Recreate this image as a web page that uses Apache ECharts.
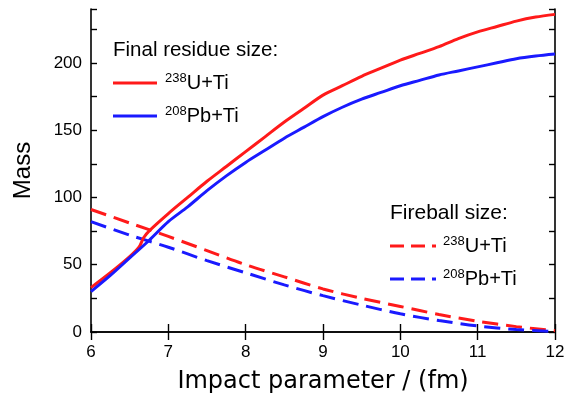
<!DOCTYPE html>
<html><head><meta charset="utf-8">
<script src="https://cdn.jsdelivr.net/npm/echarts@6/dist/echarts.min.js"></script>
<style>html,body{margin:0;padding:0;background:#fff}#c{width:578px;height:399px}</style>
</head><body><div id="c"></div>
<script>
// Impact parameter (fm) and masses
const bResidueU  = [6,6.25,6.5,6.62,6.68,6.75,7,7.25,7.5,7.75,8,8.25,8.5,8.75,9,9.25,9.5,9.75,10,10.25,10.5,10.75,11,11.25,11.5,11.75,12];
const residueU   = [33,44,56,63,70,75,88,100,112,123,134,145,156,166,176,183,190,196,202,207,212,218,223,227,231,234,236];
const bResiduePb = [6,6.25,6.5,6.75,7,7.25,7.5,7.75,8,8.25,8.5,8.75,9,9.25,9.5,9.75,10,10.25,10.5,10.75,11,11.25,11.5,11.75,12];
const residuePb  = [30,42,55,68,82,93,105,116,126,135,144,152,160,167,173,178,183,187,191,194,197,200,203,205,206.5];
const bFireball  = [6,6.5,7,7.5,8,8.5,9,9.5,10,10.5,11,11.5,12];
const fireballU  = [91,81,71,60.5,50,41,32,25,19,13,8,4,1];
const fireballPb = [82,72,63,53,44,35,27,20,13.5,8.5,4.5,1.8,0.3];
const xTicks = [6,7,8,9,10,11,12];
const yTickLabels = [0,50,100,150,200];

const FONT = 'Liberation Sans';
const TITLE_FONT = 'DejaVu Sans';
const zip = (xs, ys) => xs.map((x, i) => [x, ys[i]]);
const chart = echarts.init(document.getElementById('c'), null, {renderer: 'canvas'});
const axisLine = {show: true, lineStyle: {color: '#000', width: 1.6}};
const lineSeries = (name, xs, ys, color, type) => ({
  name, type: 'line', data: zip(xs, ys), smooth: 0.3, showSymbol: false,
  lineStyle: {color, width: 3, type: type === 'dashed' ? [16, 8] : 'solid'},
  itemStyle: {color}, z: 3
});
const sup = c => ({fontSize: 13, fontFamily: FONT, color: c, verticalAlign: 'top', lineHeight: 22});
const main = c => ({fontSize: 20, fontFamily: FONT, color: c, lineHeight: 22});
const labelText = (x, y, isotope, rest, color) => ({
  type: 'text', left: x, top: y,
  style: {text: '{s|' + isotope + '}{m|' + rest + '}', rich: {s: sup(color), m: main(color)}}
});
const legLine = (x1, x2, y, color, dashed) => ({
  type: 'line', shape: {x1, y1: y, x2, y2: y},
  style: {stroke: color, lineWidth: 3, lineDash: dashed ? [14, 7] : null}
});

chart.setOption({
  animation: false,
  grid: {left: 91, right: 23, top: 9, bottom: 65},
  xAxis: [{
    type: 'value', min: 6, max: 12, interval: 1, position: 'bottom',
    name: 'Impact parameter / (fm)', nameLocation: 'middle', nameGap: 38,
    nameTextStyle: {fontFamily: TITLE_FONT, fontSize: 24, color: '#000'},
    axisLine, axisTick: {inside: true, length: 8, lineStyle: {color: '#000', width: 1.4}},
    axisLabel: {fontFamily: FONT, fontSize: 17, color: '#000', margin: 12,
      formatter: v => xTicks.includes(v) ? String(v) : ''},
    splitLine: {show: false}
  }, {
    type: 'value', min: 6, max: 12, interval: 1, position: 'top',
    axisLine, axisTick: {inside: true, length: 8, lineStyle: {color: '#000', width: 1.4}},
    axisLabel: {show: false}, splitLine: {show: false}
  }],
  yAxis: [{
    type: 'value', min: 0, max: 240, interval: 25, position: 'left',
    name: 'Mass', nameLocation: 'middle', nameGap: 56,
    nameTextStyle: {fontFamily: FONT, fontSize: 24, color: '#000'},
    axisLine, axisTick: {inside: true, length: 6, lineStyle: {color: '#000', width: 1.4}},
    axisLabel: {fontFamily: FONT, fontSize: 17, color: '#000', margin: 9,
      formatter: v => yTickLabels.includes(v) ? String(v) : ''},
    splitLine: {show: false}
  }, {
    type: 'value', min: 0, max: 240, interval: 25, position: 'right',
    axisLine, axisTick: {inside: true, length: 6, lineStyle: {color: '#000', width: 1.4}},
    axisLabel: {show: false}, splitLine: {show: false}
  }],
  series: [
    lineSeries('Fireball 238U+Ti', bFireball, fireballU, '#ff1a1a', 'dashed'),
    lineSeries('Fireball 208Pb+Ti', bFireball, fireballPb, '#1a1aff', 'dashed'),
    lineSeries('Residue 238U+Ti', bResidueU, residueU, '#ff1a1a', 'solid'),
    lineSeries('Residue 208Pb+Ti', bResiduePb, residuePb, '#1a1aff', 'solid')
  ],
  graphic: [
    {type: 'text', left: 113, top: 40, style: {text: 'Final residue size:', fontFamily: FONT, fontSize: 20.5, fill: '#000'}},
    legLine(113, 157, 83, '#ff1a1a', false),
    labelText(165, 72, '238', 'U+Ti', '#ff1a1a'),
    legLine(113, 157, 116, '#1a1aff', false),
    labelText(165, 105, '208', 'Pb+Ti', '#1a1aff'),
    {type: 'text', left: 390, top: 203, style: {text: 'Fireball size:', fontFamily: FONT, fontSize: 21, fill: '#000'}},
    legLine(390, 436, 246, '#ff1a1a', true),
    labelText(443, 235, '238', 'U+Ti', '#ff1a1a'),
    legLine(390, 436, 279, '#1a1aff', true),
    labelText(443, 268, '208', 'Pb+Ti', '#1a1aff')
  ]
});
</script></body></html>
